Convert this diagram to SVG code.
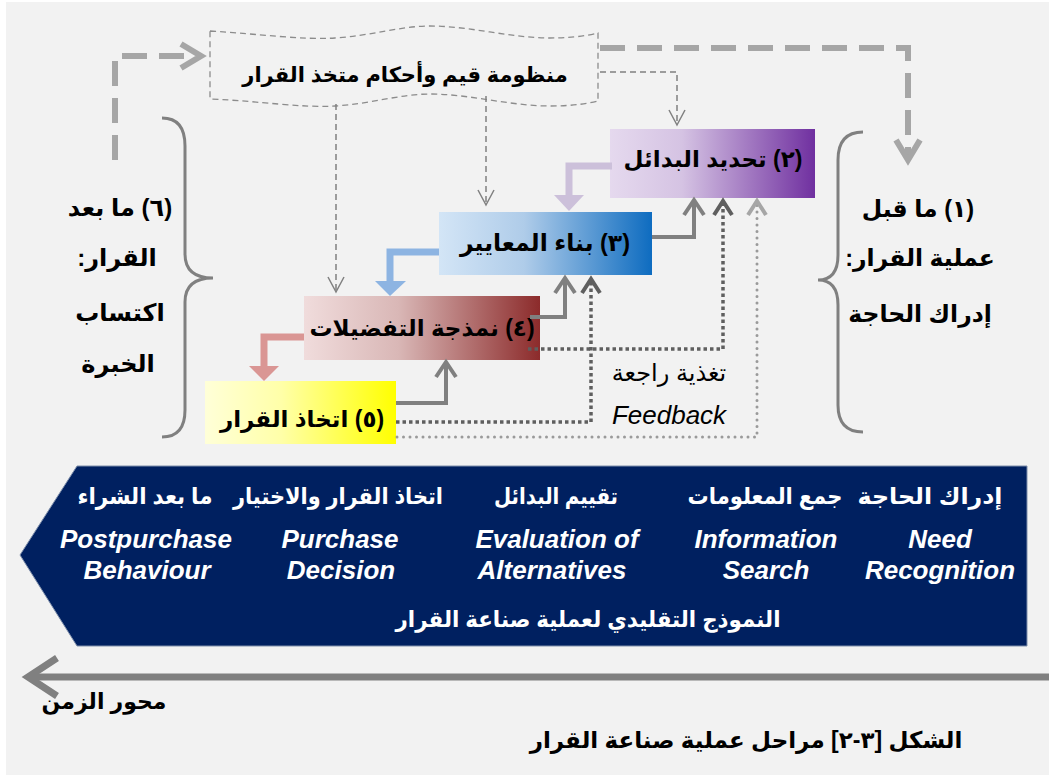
<svg xmlns="http://www.w3.org/2000/svg" width="1053" height="778" viewBox="0 0 1053 778">
<style>
.ar{font-family:"Liberation Sans","DejaVu Sans",sans-serif;font-weight:bold;direction:rtl;text-anchor:middle}
.arn{font-family:"Liberation Sans","DejaVu Sans",sans-serif;direction:rtl;text-anchor:middle}
.en{font-family:"Liberation Sans",Arial,sans-serif;font-weight:bold;font-style:italic;text-anchor:middle;fill:#fff}
.w{fill:#fff}
.thin{fill:none;stroke:#808080;stroke-width:1.5;stroke-dasharray:6 4}
.thinh{fill:none;stroke:#808080;stroke-width:1.5}
.thick{fill:none;stroke:#a6a6a6;stroke-width:6;stroke-dasharray:25 12}
.thickh{fill:none;stroke:#a6a6a6;stroke-width:6}
.gray{fill:none;stroke:#808080;stroke-width:4}
.sq{fill:none;stroke:#5f5f5f;stroke-width:3.5;stroke-dasharray:3.5 3}
.sqh{fill:none;stroke:#5f5f5f;stroke-width:4}
.rd{fill:none;stroke:#9a9a9a;stroke-width:3;stroke-linecap:round;stroke-dasharray:0 6.5}
.rdh{fill:none;stroke:#a6a6a6;stroke-width:4}
.brace{fill:none;stroke:#808080;stroke-width:3}
</style>
<defs>
<linearGradient id="g2" x1="0" x2="1" y1="0" y2="0"><stop offset="0" stop-color="#e5d9ee"/><stop offset="0.35" stop-color="#d5c3e3"/><stop offset="1" stop-color="#7030a0"/></linearGradient>
<linearGradient id="g3" x1="0" x2="1" y1="0" y2="0"><stop offset="0" stop-color="#d3e5f6"/><stop offset="0.4" stop-color="#afcce9"/><stop offset="1" stop-color="#0e6cc0"/></linearGradient>
<linearGradient id="g4" x1="0" x2="1" y1="0" y2="0"><stop offset="0" stop-color="#f0dcdc"/><stop offset="0.4" stop-color="#d9b7b6"/><stop offset="1" stop-color="#8c2b2b"/></linearGradient>
<linearGradient id="g5" x1="0" x2="1" y1="0" y2="0"><stop offset="0" stop-color="#ffffd8"/><stop offset="0.4" stop-color="#ffffa8"/><stop offset="1" stop-color="#ffff00"/></linearGradient>
</defs>
<rect x="0" y="0" width="1053" height="778" fill="#ffffff"/>
<rect x="6" y="2" width="1043" height="773" fill="#f2f2f2"/>

<g id="values">
<path d="M210,31 C260,34 300,40 335,38 C370,36 400,26 430,26 C470,26 510,38 550,38 C575,38 590,35 598,33 L598,101 C590,103 575,106 550,106 C510,106 470,94 430,94 C400,94 370,104 335,106 C300,108 260,101 210,99 Z" fill="none" stroke="#8c8c8c" stroke-width="1.3" stroke-dasharray="6 4"/>
<text class="ar" x="405" y="82" font-size="21">منظومة قيم وأحكام متخذ القرار</text>
</g>

<g id="box2">
<rect x="610" y="129" width="205" height="69" fill="url(#g2)"/>
<text class="ar" x="713" y="167" font-size="23">(٢) تحديد البدائل</text>
</g>
<g id="box3">
<rect x="439" y="212" width="213" height="63" fill="url(#g3)"/>
<text class="ar" x="545" y="251" font-size="23.5">(٣) بناء المعايير</text>
</g>
<g id="box4">
<rect x="304" y="296" width="236" height="64" fill="url(#g4)"/>
<text class="ar" x="422" y="336" font-size="23">(٤) نمذجة التفضيلات</text>
</g>
<g id="box5">
<rect x="205" y="381" width="191" height="63" fill="url(#g5)"/>
<text class="ar" x="302" y="427" font-size="23">(٥) اتخاذ القرار</text>
</g>

<g id="pre">
<path class="brace" d="M863,132 Q838,132 838,160 L838,255 Q838,280 818,280 Q838,280 838,305 L838,405 Q838,432 863,432"/>
<text class="ar" x="918" y="217" font-size="23.5">(١) ما قبل</text>
<text class="ar" x="920" y="266" font-size="23.5">عملية القرار:</text>
<text class="ar" x="920" y="322" font-size="23.5">إدراك الحاجة</text>
</g>
<g id="post">
<path class="brace" d="M162,118 Q185,118 185,146 L185,254 Q185,278 213,278 Q185,278 185,302 L185,410 Q185,437 162,437"/>
<text class="ar" x="120" y="216" font-size="24">(٦) ما بعد</text>
<text class="ar" x="117" y="266" font-size="24">القرار:</text>
<text class="ar" x="120" y="321" font-size="24">اكتساب</text>
<text class="ar" x="118" y="372" font-size="24">الخبرة</text>
</g>

<g id="feedback">
<text class="arn" x="669" y="381" font-size="24">تغذية راجعة</text>
<text x="669" y="424" font-size="26" font-family="Liberation Sans, Arial, sans-serif" font-style="italic" text-anchor="middle">Feedback</text>
</g>

<g id="connectors">
<path class="thick" d="M115,160 V56 H195"/>
<polyline class="thickh" points="181,44 201,56 181,68"/>
<path class="thick" d="M600,48 H908 V158"/>
<polyline class="thickh" points="896,140 908,160 920,140"/>
<path class="thin" d="M600,72 H677 V124"/>
<polyline class="thinh" points="669,110 677,125 685,110"/>
<path class="thin" d="M336,104 V291"/>
<polyline class="thinh" points="328,277 336,292 344,277"/>
<path class="thin" d="M486,96 V204"/>
<polyline class="thinh" points="478,190 486,205 494,190"/>

<path d="M612,166 H569 V197" fill="none" stroke="#ccc0da" stroke-width="7"/>
<polygon points="554,195 584,195 569,211" fill="#ccc0da"/>
<path d="M439,252 H390 V283" fill="none" stroke="#8db4e2" stroke-width="7"/>
<polygon points="375,281 406,281 390,296" fill="#8db4e2"/>
<path d="M304,337 H264 V368" fill="none" stroke="#da9694" stroke-width="7"/>
<polygon points="249,366 279,366 264,381" fill="#da9694"/>

<path class="gray" d="M652,237 H694 V201"/>
<polyline class="gray" points="684,215 694,200 704,215"/>
<path class="gray" d="M530,317 H565 V280"/>
<polyline class="gray" points="555,293 565,278 575,293"/>
<path class="gray" d="M396,403 H446 V364"/>
<polyline class="gray" points="436,377 446,362 456,377"/>

<path class="sq" d="M528,349 H723 V204"/>
<polyline class="sqh" points="714,215 723,201 732,215"/>
<path class="sq" d="M396,422 H591 V282"/>
<polyline class="sqh" points="582,293 591,279 600,293"/>
<path class="rd" d="M397,437 H757 V204"/>
<polyline class="rdh" points="748,215 757,201 766,215"/>
</g>

<g id="model">
<polygon points="20,555 77,466 1027,466 1027,646 77,646" fill="#002060" stroke="#7f8fab" stroke-width="1"/>
<text class="ar w" x="930" y="504" font-size="23" textLength="145" lengthAdjust="spacingAndGlyphs">إدراك الحاجة</text>
<text class="ar w" x="765" y="504" font-size="23" textLength="155" lengthAdjust="spacingAndGlyphs">جمع المعلومات</text>
<text class="ar w" x="556" y="504" font-size="23" textLength="124" lengthAdjust="spacingAndGlyphs">تقييم البدائل</text>
<text class="ar w" x="338" y="504" font-size="23" textLength="210" lengthAdjust="spacingAndGlyphs">اتخاذ القرار والاختيار</text>
<text class="ar w" x="145" y="504" font-size="23" textLength="135" lengthAdjust="spacingAndGlyphs">ما بعد الشراء</text>
<text class="en" x="940" y="548" font-size="26">Need</text>
<text class="en" x="940" y="579" font-size="26">Recognition</text>
<text class="en" x="766" y="548" font-size="26">Information</text>
<text class="en" x="766" y="579" font-size="26">Search</text>
<text class="en" x="557" y="548" font-size="26">Evaluation of</text>
<text class="en" x="552" y="579" font-size="26">Alternatives</text>
<text class="en" x="340" y="548" font-size="26">Purchase</text>
<text class="en" x="341" y="579" font-size="26">Decision</text>
<text class="en" x="146" y="548" font-size="26">Postpurchase</text>
<text class="en" x="147" y="579" font-size="26">Behaviour</text>
<text class="ar w" x="588" y="627" font-size="22.5" textLength="385" lengthAdjust="spacingAndGlyphs">النموذج التقليدي لعملية صناعة القرار</text>
</g>

<g id="timeaxis">
<line x1="1049" y1="677" x2="28" y2="677" stroke="#808080" stroke-width="7"/>
<polyline points="57,658 28,677 57,696" fill="none" stroke="#808080" stroke-width="7"/>
<text class="ar" x="104" y="709" font-size="22">محور الزمن</text>
</g>
<g id="caption">
<text class="ar" x="746" y="748" font-size="23">الشكل [٣-٢] مراحل عملية صناعة القرار</text>
</g>
</svg>
